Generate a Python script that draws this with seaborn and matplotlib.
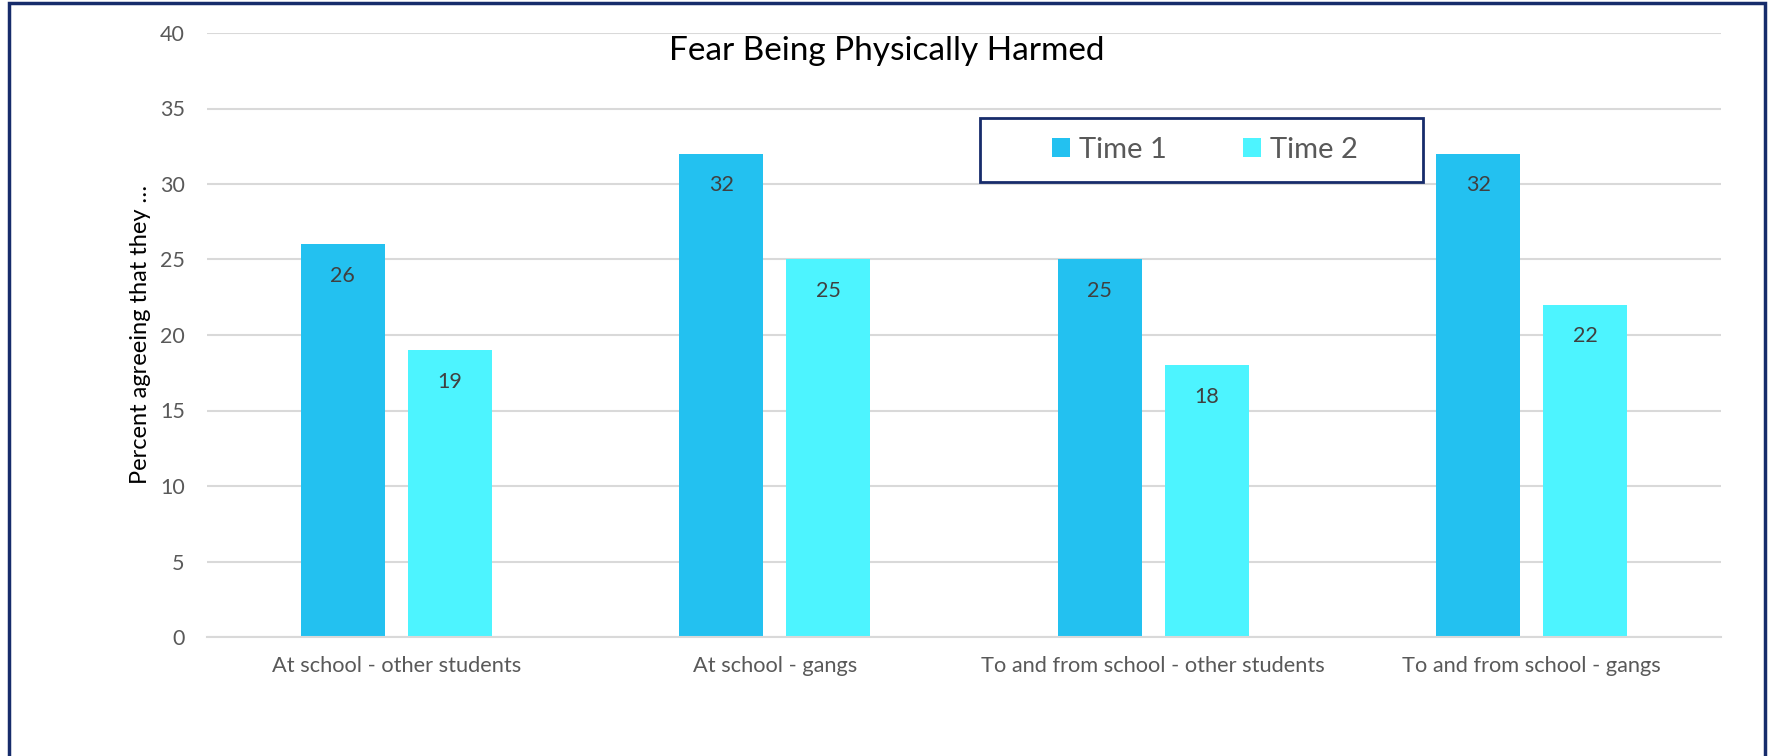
import matplotlib
matplotlib.use("Agg")
import matplotlib.pyplot as plt
import seaborn as sns
import pandas as pd
from matplotlib.patches import Rectangle

categories = ["At school - other students", "At school - gangs",
              "To and from school - other students", "To and from school - gangs"]
series_names = ["Time 1", "Time 2"]
time1 = [26, 32, 25, 32]
time2 = [19, 25, 18, 22]
yticks = [0, 5, 10, 15, 20, 25, 30, 35, 40]

colors = ["#23C1F0", "#4DF4FF"]
FONT = ["Lato", "DejaVu Sans"]

sns.set_theme(style="white")
plt.rcParams["font.family"] = FONT

df = pd.DataFrame({
    "category": categories * 2,
    "value": time1 + time2,
    "series": [series_names[0]] * 4 + [series_names[1]] * 4,
})

W, H = 1772, 756
fig = plt.figure(figsize=(W / 100, H / 100), dpi=100)
ax = fig.add_axes([207 / W, 1 - 637 / H, (1721 - 207) / W, (637 - 33) / H])

sns.barplot(data=df, x="category", y="value", hue="series", palette=colors,
            width=0.566, gap=0.215, ax=ax, saturation=1, legend=True, errorbar=None,
            linewidth=0, edgecolor="none")

ax.set_ylim(0, 40)
ax.set_yticks(yticks)
ax.set_yticklabels([str(t) for t in yticks])
ax.yaxis.grid(True, color="#D9D9D9", linewidth=1.5)
ax.set_axisbelow(True)
for s in ["top", "right", "left"]:
    ax.spines[s].set_visible(False)
ax.spines["bottom"].set_color("#D9D9D9")
ax.spines["bottom"].set_linewidth(1.5)
ax.tick_params(axis="both", length=0, colors="#595959")
ax.tick_params(axis="y", pad=16, labelsize=15.5)
ax.tick_params(axis="x", pad=14, labelsize=15.7)
ax.set_xlabel("")
ax.set_ylabel("Percent agreeing that they …", fontsize=17, color="#000000", labelpad=6)

for cont in ax.containers:
    ax.bar_label(cont, fmt="%d", padding=-30, fontsize=15.5, color="#404040")

handles, labels = ax.get_legend_handles_labels()
ax.get_legend().remove()
fig.legend(handles, labels, loc="center", bbox_to_anchor=(1205 / W, 1 - 150 / H),
           ncol=2, frameon=False, fontsize=21, handlelength=0.62, handleheight=0.62,
           handletextpad=0.3, columnspacing=2.6, labelcolor="#595959")
fig.patches.append(Rectangle((980 / W, 1 - 182 / H), (1423 - 980) / W, (182 - 118) / H,
                             transform=fig.transFigure, fill=False,
                             edgecolor="#172C6B", linewidth=2))

fig.text(887 / W, 1 - 51 / H, "Fear Being Physically Harmed", ha="center", va="center",
         fontsize=24, color="#000000")

fig.patches.append(Rectangle((9 / W, -0.2), (1765 - 9) / W, 1.2 - 3 / H,
                             transform=fig.transFigure, fill=False,
                             edgecolor="#172C6B", linewidth=2.5, clip_on=False))

fig.savefig("out.png", dpi=100)
